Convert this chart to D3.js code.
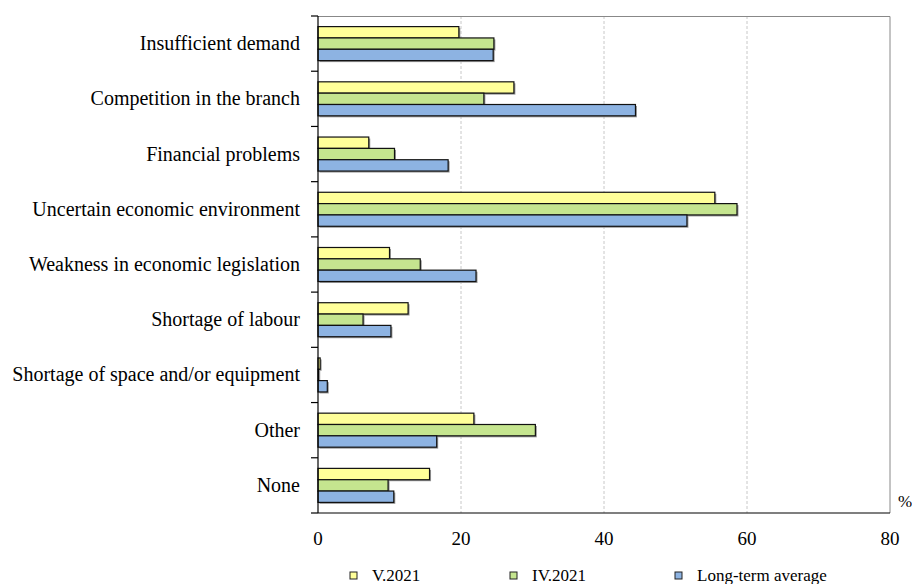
<!DOCTYPE html>
<html>
<head>
<meta charset="utf-8">
<script src="https://cdn.jsdelivr.net/npm/d3@7"></script>
<style>
  body { margin: 0; background: #fff; }
  svg text { font-family: 'Liberation Serif', 'DejaVu Serif', 'Times New Roman', Times, serif; fill: #000; }
</style>
</head>
<body>
<svg id="chart" width="912" height="584"></svg>
<script>
const categories = [
  'Insufficient demand',
  'Competition in the branch',
  'Financial problems',
  'Uncertain economic environment',
  'Weakness in economic legislation',
  'Shortage of labour',
  'Shortage of space and/or equipment',
  'Other',
  'None',
];
const seriesNames = ['V.2021', 'IV.2021', 'Long-term average'];
const v2021 = [19.7, 27.4, 7.1, 55.5, 10.0, 12.6, 0.3, 21.8, 15.6];
const iv2021 = [24.6, 23.2, 10.7, 58.6, 14.3, 6.3, 0.1, 30.4, 9.8];
const longTerm = [24.5, 44.4, 18.2, 51.6, 22.1, 10.2, 1.3, 16.6, 10.6];
const xTicks = [0, 20, 40, 60, 80];
const colors = ['#ffff99', '#c5e58f', '#8db3e2'];

const series = [v2021, iv2021, longTerm];
const serif = "'Liberation Serif', 'DejaVu Serif', serif";

const svg = d3.select('#chart');
const margin = { top: 16, right: 22, bottom: 71, left: 318 };
const width = 912 - margin.left - margin.right;
const height = 584 - margin.top - margin.bottom;

const x = d3.scaleLinear().domain([0, 80]).range([0, width]);

const y = d3
  .scaleBand()
  .domain(categories)
  .range([0, height])
  .paddingInner(0.384)
  .paddingOuter(0.192);

const ySub = d3
  .scaleBand()
  .domain(d3.range(series.length))
  .range([0, y.bandwidth()]);

const g = svg
  .append('g')
  .attr('transform', `translate(${margin.left},${margin.top})`);

// grid lines
g.selectAll('.grid')
  .data(xTicks.slice(1, -1))
  .enter()
  .append('line')
  .attr('x1', (d) => x(d))
  .attr('x2', (d) => x(d))
  .attr('y1', 0)
  .attr('y2', height)
  .attr('stroke', '#c8c8c8')
  .attr('stroke-dasharray', '3,2');

// top and right frame
g.append('path')
  .attr('d', `M0,0.5H${x(80)}V${height}`)
  .attr('fill', 'none')
  .attr('stroke', '#888');

// bars
const rows = categories.map((c, i) => ({
  category: c,
  values: series.map((s) => s[i]),
}));

const row = g
  .selectAll('.row')
  .data(rows)
  .enter()
  .append('g')
  .attr('transform', (d) => `translate(0,${y(d.category)})`);

row.selectAll('.shadow')
  .data((d) => d.values)
  .enter()
  .append('rect')
  .attr('x', 1.5)
  .attr('y', (d, i) => ySub(i) + 1.5)
  .attr('width', (d) => x(d))
  .attr('height', ySub.bandwidth())
  .attr('fill', '#999');

row.selectAll('.bar')
  .data((d) => d.values)
  .enter()
  .append('rect')
  .attr('x', 0)
  .attr('y', (d, i) => ySub(i))
  .attr('width', (d) => x(d))
  .attr('height', ySub.bandwidth())
  .attr('fill', (d, i) => colors[i])
  .attr('stroke', '#111')
  .attr('stroke-width', 1.2);

// left axis with ticks between categories
const bounds = d3.range(categories.length + 1).map((i) => i * y.step());
g.append('line')
  .attr('x1', 0)
  .attr('x2', 0)
  .attr('y1', 0)
  .attr('y2', height)
  .attr('stroke', '#000')
  .attr('stroke-width', 1.2);

g.selectAll('.ytick')
  .data(bounds)
  .enter()
  .append('line')
  .attr('x1', -7)
  .attr('x2', 0)
  .attr('y1', (d) => d)
  .attr('y2', (d) => d)
  .attr('stroke', '#000')
  .attr('stroke-width', 1.2);

g.selectAll('.ylabel')
  .data(categories)
  .enter()
  .append('text')
  .attr('x', -18)
  .attr('y', (d) => y(d) + y.bandwidth() / 2 + 6.5)
  .attr('text-anchor', 'end')
  .attr('font-family', serif)
  .style('font-size', '20px')
  .text((d) => d);

// bottom axis
g.append('line')
  .attr('x1', 0)
  .attr('x2', x(80))
  .attr('y1', height)
  .attr('y2', height)
  .attr('stroke', '#000')
  .attr('stroke-width', 1.2);

g.selectAll('.xlabel')
  .data(xTicks)
  .enter()
  .append('text')
  .attr('x', (d) => x(d))
  .attr('y', height + 32)
  .attr('text-anchor', 'middle')
  .attr('font-family', serif)
  .style('font-size', '19px')
  .text((d) => d);

g.append('text')
  .attr('x', x(80) + 8)
  .attr('y', height - 6)
  .attr('font-family', serif)
  .style('font-size', '17px')
  .text('%');

// legend
const legendX = [350, 510, 675];
const legend = svg
  .selectAll('.legend')
  .data(seriesNames)
  .enter()
  .append('g')
  .attr('transform', (d, i) => `translate(${legendX[i]},572)`);

legend.append('rect')
  .attr('width', 7)
  .attr('height', 7)
  .attr('fill', (d, i) => colors[i])
  .attr('stroke', '#222');

legend.append('text')
  .attr('x', 22)
  .attr('y', 8.5)
  .attr('font-family', serif)
  .style('font-size', '17px')
  .text((d) => d);
</script>
</body>
</html>
